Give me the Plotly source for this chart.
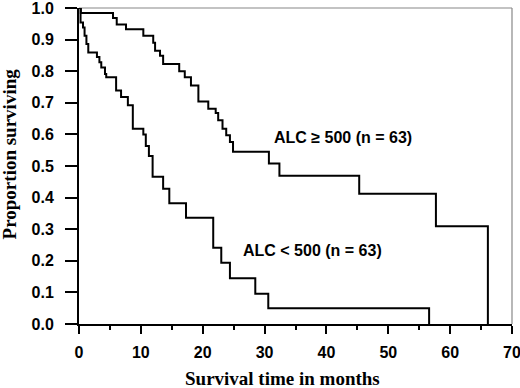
import plotly.graph_objects as go

# Kaplan-Meier estimates (months, proportion surviving)
high_times = [0, 0.3, 5.5, 6.1, 7.6, 10.4, 12.0, 12.3, 13.1, 13.6, 16.2, 17.1, 18.1,
              19.3, 20.9, 22.1, 22.5, 23.2, 23.8, 24.4, 24.9, 30.7, 32.4, 45.3, 57.7, 66.1]
high_surv = [1.0, 0.984, 0.968, 0.948, 0.933, 0.912, 0.89, 0.865, 0.849, 0.823, 0.80, 0.781, 0.755,
             0.704, 0.681, 0.668, 0.645, 0.618, 0.597, 0.576, 0.545, 0.508, 0.469, 0.412, 0.309, 0.0]

low_times = [0, 0.25, 0.65, 0.9, 1.2, 1.5, 2.9, 3.3, 3.6, 4.2, 4.4, 6.0, 6.8, 7.9, 8.7,
             10.4, 10.8, 11.3, 11.9, 13.6, 14.6, 17.3, 21.7, 23.0, 24.4, 28.5, 30.6, 56.6]
low_surv = [1.0, 0.954, 0.938, 0.912, 0.886, 0.859, 0.845, 0.828, 0.812, 0.791, 0.781, 0.739, 0.718, 0.692, 0.618,
            0.600, 0.563, 0.532, 0.466, 0.428, 0.382, 0.336, 0.241, 0.194, 0.145, 0.096, 0.050, 0.0]

x_ticks = [0, 10, 20, 30, 40, 50, 60, 70]
y_ticks = [0.0, 0.1, 0.2, 0.3, 0.4, 0.5, 0.6, 0.7, 0.8, 0.9, 1.0]

labels = ["ALC \u2265 500 (n = 63)", "ALC < 500 (n = 63)"]
label_pos = [(31.3, 0.589), (26.3, 0.234)]

SANS = "Liberation Sans, Arial, sans-serif"
SERIF = "Liberation Serif, Times New Roman, serif"

fig = go.Figure()
for t, s in [(high_times, high_surv), (low_times, low_surv)]:
    fig.add_trace(go.Scatter(x=t, y=s, mode="lines", line=dict(color="black", width=2, shape="hv"),
                             showlegend=False, hoverinfo="skip", cliponaxis=False))

for txt, (lx, ly) in zip(labels, label_pos):
    fig.add_annotation(x=lx, y=ly, xref="x", yref="y", text=f"<b>{txt}</b>", showarrow=False,
                       xanchor="left", yanchor="middle", borderpad=0,
                       font=dict(family=SANS, size=16, color="black"))

fig.add_annotation(xref="paper", yref="paper", x=-0.160, y=0.539, text="<b>Proportion surviving</b>",
                   textangle=-90, showarrow=False, xanchor="center", yanchor="middle",
                   font=dict(family=SERIF, size=19, color="black"))
fig.add_annotation(xref="paper", yref="paper", x=0.469, y=-0.172, text="<b>Survival time in months</b>",
                   showarrow=False, xanchor="center", yanchor="middle",
                   font=dict(family=SERIF, size=19, color="black"))

# grey frame on top and right
fig.add_shape(type="line", xref="paper", yref="paper", x0=0, x1=1, y0=1, y1=1,
              line=dict(color="#888888", width=1.2), layer="below")
fig.add_shape(type="line", xref="paper", yref="paper", x0=1, x1=1, y0=0, y1=1,
              line=dict(color="#888888", width=1.2), layer="below")

fig.update_xaxes(range=[0, 70], tickvals=x_ticks, ticktext=[str(v) for v in x_ticks],
                 showgrid=False, zeroline=False, showline=True, linecolor="black", linewidth=2,
                 ticks="outside", ticklen=8, tickwidth=2, tickcolor="black",
                 minor=dict(tickvals=[5, 15, 25, 35, 45, 55, 65], ticks="outside", ticklen=4,
                            tickwidth=2, tickcolor="black", showgrid=False),
                 tickfont=dict(family=SANS, size=16, color="black", weight="bold"),
                 ticklabelstandoff=5, automargin=False, ticklabeloverflow="allow")
fig.update_yaxes(range=[0, 1.0], tickvals=y_ticks, ticktext=[f"{v:.1f}" for v in y_ticks],
                 showgrid=False, zeroline=False, showline=True, linecolor="black", linewidth=2,
                 ticks="outside", ticklen=12, tickwidth=2, tickcolor="black",
                 tickfont=dict(family=SANS, size=16, color="black", weight="bold"),
                 ticklabelstandoff=8, automargin=False, ticklabeloverflow="allow")

fig.update_layout(width=520, height=388, margin=dict(l=79, r=8, t=8, b=64, autoexpand=False),
                  plot_bgcolor="white", paper_bgcolor="white", showlegend=False)

fig.write_html("out.html", config={"displayModeBar": False},
               post_script="document.body.style.margin='0';document.body.style.padding='0';")
